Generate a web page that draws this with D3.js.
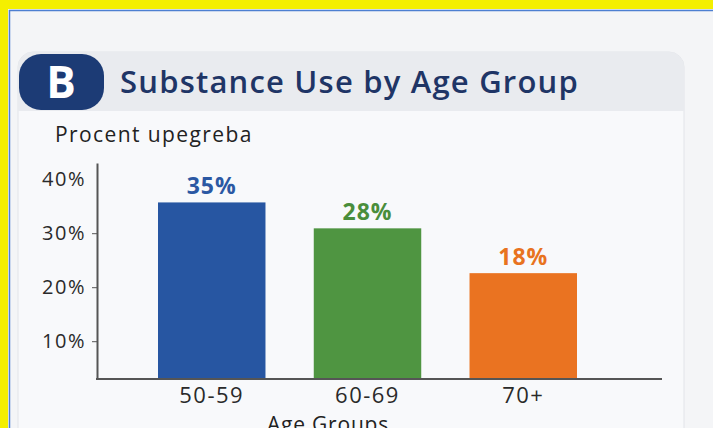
<!DOCTYPE html>
<html lang="en">
<head>
    <meta charset="UTF-8">
    <title>Substance Use by Age Group</title>
    <script src="https://cdn.jsdelivr.net/npm/d3@7"></script>
    <style>
        body { margin: 0; background: #f4f5f7; }
        svg { display: block; font-family: "Open Sans", sans-serif; }
        .axis { font-family: "Open Sans", sans-serif; }
        .axis path, .axis line { stroke: #555; }
        .axis text { fill: #2a2a2a; }
    </style>
</head>
<body>
<script>
    // data
    const categories = ['50-59', '60-69', '70+']
    const barValues = [35.7, 30.9, 22.6]   // bar tops measured against the axis
    const valueLabels = ['35%', '28%', '18%']
    const yTicks = [10, 20, 30, 40]
    const barColors = ['#2756a2', '#4f9541', '#ea7321']
    const labelColors = ['#2b58a3', '#4a8e3b', '#e8731f']

    const width = 713
    const height = 428

    const svg = d3.select('body').append('svg')
        .attr('width', width)
        .attr('height', height)

    // page background + yellow frame
    svg.append('rect').attr('width', width).attr('height', height).attr('fill', '#f4f5f7')
    svg.append('rect').attr('x', 0).attr('y', 0).attr('width', width).attr('height', 9).attr('fill', '#f4ef00')
    svg.append('rect').attr('x', 0).attr('y', 0).attr('width', 8).attr('height', height).attr('fill', '#f4ef00')
    svg.append('path')
        .attr('d', 'M9.5,' + height + 'V10.5H' + width)
        .attr('fill', 'none').attr('stroke', '#4d7fd1').attr('stroke-width', 1.5)

    // card
    svg.append('rect')
        .attr('x', 18).attr('y', 52).attr('width', 666).attr('height', 420).attr('rx', 15)
        .attr('fill', '#f8f9fb').attr('stroke', '#e2e4e9')
    svg.append('path')
        .attr('d', 'M18,111V67a15,15 0 0 1 15,-15H669a15,15 0 0 1 15,15V111Z')
        .attr('fill', '#e9ebef')

    // badge + title
    svg.append('rect')
        .attr('x', 19).attr('y', 54).attr('width', 85).attr('height', 56).attr('rx', 22)
        .attr('fill', '#1c3b75')
    svg.append('text')
        .attr('x', 61).attr('y', 98)
        .attr('text-anchor', 'middle')
        .attr('font-size', 44).attr('font-weight', 700)
        .attr('fill', '#fff')
        .text('B')
    svg.append('text')
        .attr('x', 120).attr('y', 93)
        .attr('font-size', 31).attr('font-weight', 600)
        .attr('letter-spacing', 1.2)
        .attr('fill', '#1f3566')
        .text('Substance Use by Age Group')

    svg.append('text')
        .attr('x', 55).attr('y', 142)
        .attr('font-size', 21)
        .attr('letter-spacing', 1.4)
        .attr('fill', '#222')
        .text('Procent upegreba')

    // scales
    const y = d3.scaleLinear()
        .domain([3, 43])
        .range([379, 163])

    const x = d3.scaleBand()
        .domain(categories)
        .range([117.5, 617.5])
        .paddingInner(0.31)
        .paddingOuter(0.26)

    // bars
    svg.selectAll('.bar')
        .data(barValues)
        .enter()
        .append('rect')
        .attr('class', 'bar')
        .attr('x', (d, i) => x(categories[i]))
        .attr('y', d => y(d))
        .attr('width', x.bandwidth())
        .attr('height', d => y(3) - y(d))
        .attr('fill', (d, i) => barColors[i])

    svg.selectAll('.val')
        .data(barValues)
        .enter()
        .append('text')
        .attr('class', 'val')
        .attr('x', (d, i) => x(categories[i]) + x.bandwidth() / 2)
        .attr('y', d => y(d) - 8)
        .attr('text-anchor', 'middle')
        .attr('font-size', 23).attr('font-weight', 700)
        .attr('letter-spacing', 1)
        .attr('fill', (d, i) => labelColors[i])
        .text((d, i) => valueLabels[i])

    // y axis
    const yAxis = svg.append('g')
        .attr('class', 'axis')
        .attr('transform', 'translate(97,0)')
        .call(d3.axisLeft(y).tickValues(yTicks).tickSize(5).tickSizeOuter(0).tickFormat(d => d + '%'))
    yAxis.select('.domain').attr('stroke-width', 2)
    yAxis.selectAll('.tick text').attr('font-size', 20).attr('letter-spacing', 1.5).attr('x', -11)
    yAxis.selectAll('.tick').filter(d => d === 40).select('line').remove()

    // x axis
    svg.append('line')
        .attr('x1', 96).attr('x2', 662)
        .attr('y1', y(3)).attr('y2', y(3))
        .attr('stroke', '#555').attr('stroke-width', 2)

    const xAxis = svg.append('g')
        .attr('class', 'axis')
        .attr('transform', 'translate(0,' + y(3) + ')')
        .call(d3.axisBottom(x).tickSize(0).tickPadding(8))
    xAxis.select('.domain').remove()
    xAxis.selectAll('.tick text').attr('font-size', 22).attr('letter-spacing', 1.5)

    svg.append('text')
        .attr('x', 328).attr('y', 432)
        .attr('text-anchor', 'middle')
        .attr('font-size', 21)
        .attr('letter-spacing', 0.8)
        .attr('fill', '#222')
        .text('Age Groups')
</script>
</body>
</html>
